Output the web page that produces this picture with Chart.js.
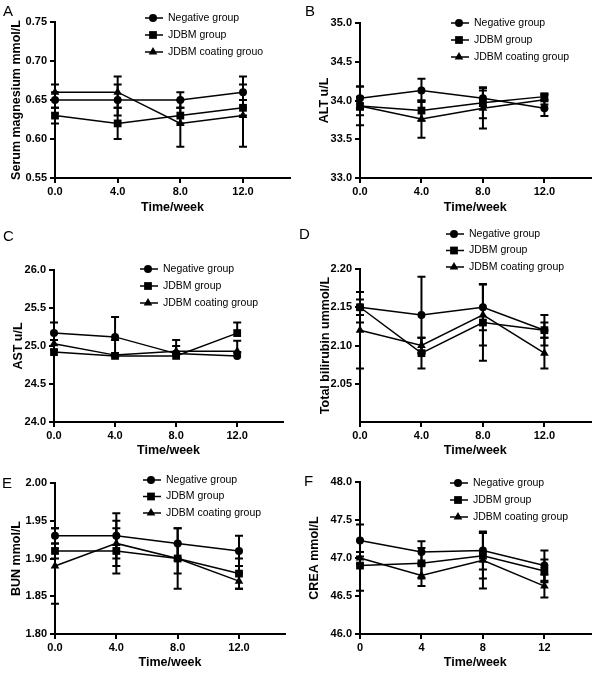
<!DOCTYPE html>
<html>
<head>
<meta charset="utf-8">
<title>Blood biochemistry over time</title>
<script src="https://cdn.jsdelivr.net/npm/chart.js@4.4.0/dist/chart.umd.min.js"></script>
<style>
  html, body { margin: 0; padding: 0; background: #fff; }
  #page { position: relative; width: 596px; height: 675px; overflow: hidden; background: #fff; }
  #page canvas { position: absolute; }
  .tag { position: absolute; font: 15px/1 "Liberation Sans", Arial, sans-serif; color: #000; }
</style>
</head>
<body>
<div id="page"></div>
<script>
'use strict';

/* ---- Data ---- */
const weeks = [0, 4, 8, 12];
const groupNames = ['Negative group', 'JDBM group', 'JDBM coating group'];
const groupNamesA = ['Negative group', 'JDBM group', 'JDBM coating grouo'];

// A – serum magnesium (mmol/L)
const mgNeg = [0.65, 0.65, 0.65, 0.66];
const mgJdbm = [0.63, 0.62, 0.63, 0.64];
const mgCoat = [0.66, 0.66, 0.62, 0.63];
const mgNegSd = [0.01, 0.02, 0.01, 0.02];
const mgJdbmSd = [0.01, 0.02, 0.01, 0.01];
const mgCoatSd = [0.01, 0.02, 0.03, 0.04];
const mgTicks = [0.55, 0.60, 0.65, 0.70, 0.75];

// B – ALT (u/L)
const altNeg = [34.03, 34.13, 34.03, 33.90];
const altJdbm = [33.93, 33.87, 33.97, 34.05];
const altCoat = [33.93, 33.76, 33.90, 34.01];
const altNegSd = [0.15, 0.15, 0.10, 0.10];
const altJdbmSd = [0.12, 0.13, 0.20, 0.04];
const altCoatSd = [0.25, 0.24, 0.26, 0.06];
const altTicks = [33.0, 33.5, 34.0, 34.5, 35.0];

// C – AST (u/L), upper error bars only
const astNeg = [25.17, 25.12, 24.90, 24.87];
const astJdbm = [24.92, 24.87, 24.87, 25.17];
const astCoat = [25.03, 24.88, 24.93, 24.93];
const astNegSd = [0.14, 0.26, 0.10, 0.05];
const astJdbmSd = [0.03, 0.03, 0.04, 0.14];
const astCoatSd = [0.05, 0.20, 0.15, 0.14];
const astTicks = [24.0, 24.5, 25.0, 25.5, 26.0];

// D – total bilirubin (ummol/L)
const bilNeg = [2.15, 2.14, 2.15, 2.12];
const bilJdbm = [2.15, 2.09, 2.13, 2.12];
const bilCoat = [2.12, 2.10, 2.14, 2.09];
const bilNegSd = [0.02, 0.05, 0.03, 0.02];
const bilJdbmSd = [0.01, 0.02, 0.05, 0.01];
const bilCoatSd = [0.05, 0.01, 0.04, 0.02];
const bilTicks = [2.05, 2.10, 2.15, 2.20];

// E – BUN (mmol/L)
const bunNeg = [1.93, 1.93, 1.92, 1.91];
const bunJdbm = [1.91, 1.91, 1.90, 1.88];
const bunCoat = [1.89, 1.92, 1.90, 1.87];
const bunNegSd = [0.01, 0.03, 0.02, 0.02];
const bunJdbmSd = [0.01, 0.03, 0.04, 0.02];
const bunCoatSd = [0.05, 0.03, 0.02, 0.01];
const bunTicks = [1.80, 1.85, 1.90, 1.95, 2.00];

// F – CREA (mmol/L)
const crNeg = [47.23, 47.08, 47.10, 46.90];
const crJdbm = [46.90, 46.93, 47.03, 46.83];
const crCoat = [47.00, 46.77, 46.97, 46.63];
const crNegSd = [0.21, 0.14, 0.25, 0.20];
const crJdbmSd = [0.33, 0.20, 0.30, 0.15];
const crCoatSd = [0.08, 0.14, 0.37, 0.15];
const crTicks = [46.0, 46.5, 47.0, 47.5, 48.0];

/* ---- Panel setup ---- */
const CW = 298, CH = 240;
const markerStyles = ['circle', 'rect', 'triangle'];
const markerRadii = [4, 5.5, 5];

const panels = [
  { tag: 'A', left: 0, top: 0, plot: [55, 22, 290, 178], tagPos: [3, 3],
    yTitle: 'Serum magnesium mmol/L', yMin: 0.55, yMax: 0.75, yTicks: mgTicks, yDec: 2, xDec: 1,
    series: [mgNeg, mgJdbm, mgCoat], sd: [mgNegSd, mgJdbmSd, mgCoatSd], names: groupNamesA,
    yTitlePad: 9.5, xTitlePad: 24.5, legend: [145, 18, 17] },
  { tag: 'B', left: 298, top: 0, plot: [360, 23, 592, 178], tagPos: [305, 3],
    yTitle: 'ALT u/L', yMin: 33, yMax: 35, yTicks: altTicks, yDec: 1, xDec: 1,
    series: [altNeg, altJdbm, altCoat], sd: [altNegSd, altJdbmSd, altCoatSd], names: groupNames,
    yTitlePad: 18.7, xTitlePad: 24.5, legend: [451, 23, 17] },
  { tag: 'C', left: 0, top: 225, plot: [54, 270, 283, 422], tagPos: [3, 228], upOnly: true,
    yTitle: 'AST u/L', yMin: 24, yMax: 26, yTicks: astTicks, yDec: 1, xDec: 1,
    series: [astNeg, astJdbm, astCoat], sd: [astNegSd, astJdbmSd, astCoatSd], names: groupNames,
    yTitlePad: 10.7, xTitlePad: 7.2, legend: [140, 269, 17] },
  { tag: 'D', left: 298, top: 225, plot: [360, 269, 592, 422], tagPos: [299, 226],
    yTitle: 'Total bilirubin ummol/L', yMin: 2.0, yMax: 2.2, yTicks: bilTicks, yDec: 2, xDec: 1,
    series: [bilNeg, bilJdbm, bilCoat], sd: [bilNegSd, bilJdbmSd, bilCoatSd], names: groupNames,
    yTitlePad: 19.7, xTitlePad: 7.2, legend: [446, 234, 16.5] },
  { tag: 'E', left: 0, top: 450, plot: [55, 483, 285, 634], tagPos: [2, 475],
    yTitle: 'BUN mmol/L', yMin: 1.8, yMax: 2.0, yTicks: bunTicks, yDec: 2, xDec: 1,
    series: [bunNeg, bunJdbm, bunCoat], sd: [bunNegSd, bunJdbmSd, bunCoatSd], names: groupNames,
    yTitlePad: 9.2, xTitlePad: 19.5, legend: [143, 480, 16.5] },
  { tag: 'F', left: 298, top: 450, plot: [360, 482, 592, 634], tagPos: [304, 473],
    yTitle: 'CREA mmol/L', yMin: 46, yMax: 48, yTicks: crTicks, yDec: 1, xDec: 0,
    series: [crNeg, crJdbm, crCoat], sd: [crNegSd, crJdbmSd, crCoatSd], names: groupNames,
    yTitlePad: 8.7, xTitlePad: 19.5, legend: [450, 483, 17] }
];

Chart.defaults.font.family = '"Liberation Sans", Arial, Helvetica, sans-serif';
Chart.defaults.color = '#000';

/* ---- Marker helper ---- */
function drawMarker(ctx, style, x, y, r) {
  ctx.beginPath();
  if (style === 'circle') {
    ctx.arc(x, y, r, 0, Math.PI * 2);
  } else if (style === 'rect') {
    const s = r * Math.SQRT1_2;
    ctx.rect(x - s, y - s, 2 * s, 2 * s);
  } else {
    for (let k = 0; k < 3; k++) {
      const a = k * 2 * Math.PI / 3;
      const px = x + Math.sin(a) * r, py = y - Math.cos(a) * r;
      k ? ctx.lineTo(px, py) : ctx.moveTo(px, py);
    }
    ctx.closePath();
  }
  ctx.fill();
}

/* ---- Error bars (mean ± SD) ---- */
const errorBars = {
  id: 'errorBars',
  afterDatasetsDraw(chart, args, opts) {
    const { ctx, scales: { x, y } } = chart;
    ctx.save();
    ctx.strokeStyle = '#000';
    ctx.lineWidth = 2;
    chart.data.datasets.forEach(ds => {
      ds.data.forEach((pt, j) => {
        const sd = ds.sd[j];
        const px = x.getPixelForValue(pt.x);
        const top = y.getPixelForValue(pt.y + sd);
        const bot = y.getPixelForValue(opts.upOnly ? pt.y : pt.y - sd);
        ctx.beginPath();
        ctx.moveTo(px, top); ctx.lineTo(px, bot);
        ctx.moveTo(px - 4, top); ctx.lineTo(px + 4, top);
        if (!opts.upOnly) { ctx.moveTo(px - 4, bot); ctx.lineTo(px + 4, bot); }
        ctx.stroke();
      });
    });
    ctx.restore();
  }
};

/* ---- Legend: line + marker + label ---- */
const lineLegend = {
  id: 'lineLegend',
  afterDraw(chart, args, opts) {
    const { ctx } = chart;
    ctx.save();
    ctx.fillStyle = '#000';
    ctx.strokeStyle = '#000';
    ctx.font = '10.5px "Liberation Sans", Arial, sans-serif';
    ctx.textBaseline = 'middle';
    chart.data.datasets.forEach((ds, i) => {
      const y = opts.y + i * opts.gap;
      ctx.lineWidth = 1.5;
      ctx.beginPath();
      ctx.moveTo(opts.x, y); ctx.lineTo(opts.x + 18, y);
      ctx.stroke();
      drawMarker(ctx, ds.pointStyle, opts.x + 8, y, ds.pointRadius);
      ctx.fillText(ds.label, opts.x + 23, y);
    });
    ctx.restore();
  }
};

/* ---- Build one panel ---- */
function makePanel(p) {
  const page = document.getElementById('page');
  const cv = document.createElement('canvas');
  cv.width = CW; cv.height = CH;
  cv.style.left = p.left + 'px';
  cv.style.top = p.top + 'px';
  page.appendChild(cv);

  const tag = document.createElement('div');
  tag.className = 'tag';
  tag.textContent = p.tag;
  tag.style.left = p.tagPos[0] + 'px';
  tag.style.top = p.tagPos[1] + 'px';
  page.appendChild(tag);

  const [pl, pt, pr, pb] = p.plot;
  const yWidth = pl - p.left;
  const xHeight = p.top + CH - pb;

  const axisGrid = { drawOnChartArea: false, drawTicks: true, tickLength: 5, color: '#000', lineWidth: 2 };
  const axisBorder = { display: true, color: '#000', width: 2 };

  new Chart(cv, {
    type: 'line',
    data: {
      datasets: p.series.map((vals, i) => ({
        label: p.names[i],
        data: vals.map((v, j) => ({ x: weeks[j], y: v })),
        sd: p.sd[i],
        borderColor: '#000',
        backgroundColor: '#000',
        borderWidth: 1.5,
        tension: 0,
        pointStyle: markerStyles[i],
        pointRadius: markerRadii[i],
        pointBackgroundColor: '#000',
        pointBorderColor: '#000',
        pointBorderWidth: 0,
        clip: false
      }))
    },
    options: {
      responsive: false,
      animation: false,
      events: [],
      layout: { padding: { left: 0, top: pt - p.top, right: p.left + CW - pr, bottom: 0 } },
      plugins: {
        legend: { display: false },
        tooltip: { enabled: false },
        errorBars: { upOnly: !!p.upOnly },
        lineLegend: { x: p.legend[0] - p.left, y: p.legend[1] - p.top, gap: p.legend[2] }
      },
      scales: {
        x: {
          type: 'linear', min: 0, max: 15,
          afterBuildTicks: s => { s.ticks = weeks.map(v => ({ value: v })); },
          afterFit: s => { s.height = xHeight; },
          grid: axisGrid,
          border: axisBorder,
          ticks: { color: '#000', padding: 2, maxRotation: 0, autoSkip: false,
                   font: { size: 11, weight: 'bold' },
                   callback: v => v.toFixed(p.xDec) },
          title: { display: true, text: 'Time/week', color: '#000',
                   font: { size: 12.5, weight: 'bold' }, padding: { top: 0, bottom: p.xTitlePad } }
        },
        y: {
          type: 'linear', min: p.yMin, max: p.yMax,
          afterBuildTicks: s => { s.ticks = p.yTicks.map(v => ({ value: v })); },
          afterFit: s => { s.width = yWidth; },
          grid: axisGrid,
          border: axisBorder,
          ticks: { color: '#000', padding: 3, autoSkip: false,
                   font: { size: 11, weight: 'bold' },
                   callback: v => v.toFixed(p.yDec) },
          title: { display: true, text: p.yTitle, color: '#000',
                   font: { size: 12.5, weight: 'bold' }, padding: { top: p.yTitlePad, bottom: 0 } }
        }
      }
    },
    plugins: [errorBars, lineLegend]
  });
}

document.addEventListener('DOMContentLoaded', () => {
  panels.forEach(makePanel);
});
</script>
</body>
</html>
